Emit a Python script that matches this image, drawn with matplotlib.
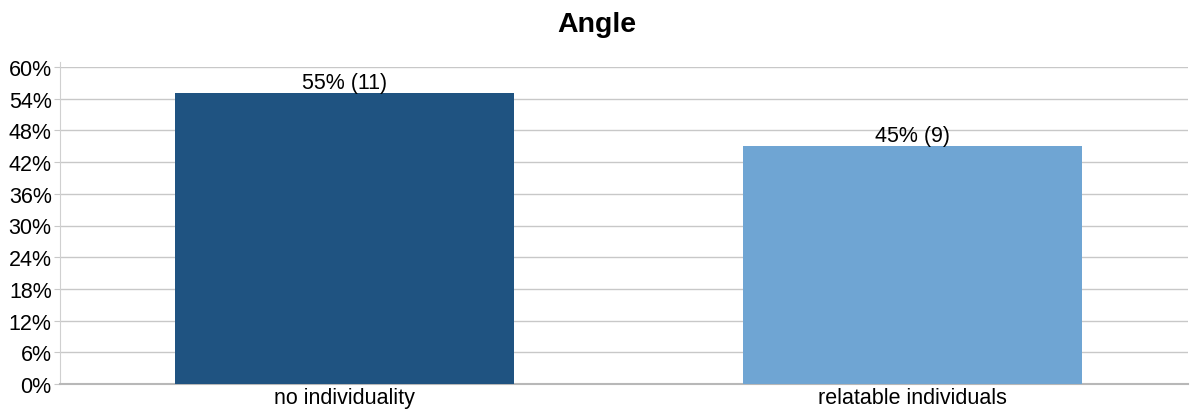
import matplotlib.pyplot as plt
from matplotlib.ticker import FuncFormatter

# share of responses per category
categories = ['no individuality', 'relatable individuals']
percents = [55, 45]
counts = [11, 9]
bar_colors = ['#1f5381', '#6fa5d3']

plt.rcParams['font.family'] = ['Liberation Sans', 'DejaVu Sans']

fig = plt.figure(figsize=(11.93, 4.14), dpi=100)
ax = fig.add_axes([60 / 1193, 29 / 414, 1128 / 1193, 317 / 414])

x = range(len(categories))
bars = ax.bar(x, percents, width=0.597, color=bar_colors, zorder=3)
for bar, pct, n in zip(bars, percents, counts):
    ax.text(bar.get_x() + bar.get_width() / 2, pct, f'{pct}% ({n})',
            ha='center', va='bottom', fontsize=15.5, zorder=4)

ax.set_xlim(-0.501, 1.485)
ax.set_ylim(0, 60)
ax.set_yticks(range(0, 61, 6))
ax.yaxis.set_major_formatter(FuncFormatter(lambda v, p: f'{int(v)}%'))
ax.set_xticks(list(x))
ax.set_xticklabels(categories)
ax.tick_params(axis='y', labelsize=15.5, length=4, color='#c8c8c8', pad=2)
ax.tick_params(axis='x', labelsize=15.5, length=0, pad=2)

ax.grid(axis='y', color='#c8c8c8', linewidth=1, zorder=0)
for side in ['top', 'right']:
    ax.spines[side].set_visible(False)
ax.spines['left'].set_color('#d0d0d0')
ax.spines['left'].set_bounds(0, 61)
ax.spines['bottom'].set_color('#b8b8b8')
ax.spines['bottom'].set_linewidth(1.5)

fig.suptitle('Angle', fontsize=20.5, fontweight='bold', y=0.972)

fig.savefig('out.png', dpi=100)
